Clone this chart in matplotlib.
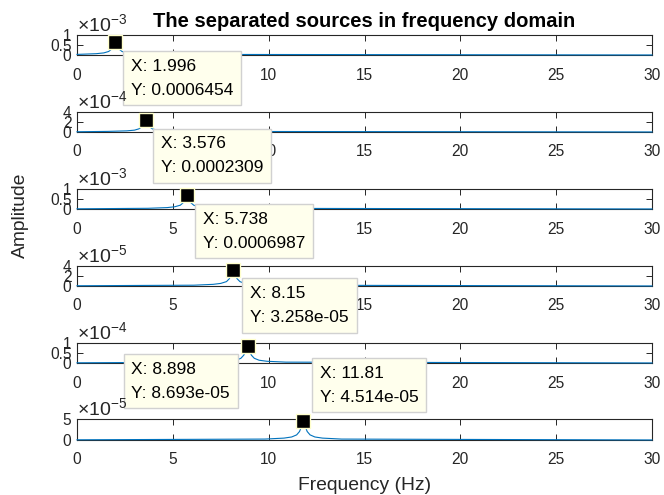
import matplotlib
matplotlib.use("Agg")
import matplotlib.pyplot as plt

plt.rcParams['font.family'] = ['Liberation Sans', 'DejaVu Sans']
plt.rcParams['mathtext.fontset'] = 'custom'
plt.rcParams['mathtext.rm'] = 'Liberation Sans'
plt.rcParams['mathtext.it'] = 'Liberation Sans:italic'
plt.rcParams['mathtext.bf'] = 'Liberation Sans:bold'

# Amplitude spectra of the six separated sources (frequency in Hz)
freq1 = [0.0, 1.0, 1.4, 1.65, 1.8, 1.9, 1.996, 2.1, 2.2, 2.35, 2.6, 3.0, 4.0, 30.0]
amp1 = [0.3e-4, 0.65e-4, 1.05e-4, 1.75e-4, 2.9e-4, 4.6e-4, 6.454e-4, 4.6e-4, 2.9e-4,
        1.75e-4, 1.05e-4, 0.65e-4, 0.32e-4, 0.02e-4]

freq2 = [0.0, 1.6, 2.6, 3.0, 3.23, 3.38, 3.48, 3.576, 3.68, 3.78, 3.93, 4.18, 4.58, 5.6, 30.0]
amp2 = [0.05e-4, 0.12e-4, 0.23e-4, 0.37e-4, 0.63e-4, 1.04e-4, 1.64e-4, 2.309e-4, 1.64e-4,
        1.04e-4, 0.63e-4, 0.37e-4, 0.23e-4, 0.12e-4, 0.01e-4]

freq3 = [0.0, 3.7, 4.7, 5.1, 5.39, 5.54, 5.64, 5.738, 5.84, 5.94, 6.09, 6.34, 6.74, 7.7, 30.0]
amp3 = [0.1e-4, 0.35e-4, 0.7e-4, 1.12e-4, 1.9e-4, 3.15e-4, 4.95e-4, 6.987e-4, 4.95e-4,
        3.15e-4, 1.9e-4, 1.12e-4, 0.7e-4, 0.35e-4, 0.02e-4]

freq4 = [0.0, 6.1, 7.1, 7.5, 7.8, 7.95, 8.05, 8.15, 8.25, 8.35, 8.5, 8.75, 9.15, 10.2, 30.0]
amp4 = [0.05e-5, 0.16e-5, 0.33e-5, 0.52e-5, 0.88e-5, 1.47e-5, 2.31e-5, 3.258e-5, 2.31e-5,
        1.47e-5, 0.88e-5, 0.52e-5, 0.33e-5, 0.16e-5, 0.01e-5]

freq5 = [0.0, 6.9, 7.9, 8.3, 8.55, 8.7, 8.8, 8.898, 9.0, 9.1, 9.25, 9.5, 9.9, 10.9, 30.0]
amp5 = [0.1e-5, 0.43e-5, 0.87e-5, 1.39e-5, 2.35e-5, 3.9e-5, 6.15e-5, 8.693e-5, 6.15e-5,
        3.9e-5, 2.35e-5, 1.39e-5, 0.87e-5, 0.43e-5, 0.03e-5]

freq6 = [0.0, 9.8, 10.8, 11.2, 11.46, 11.61, 11.71, 11.81, 11.91, 12.01, 12.16, 12.41, 12.81, 13.8, 30.0]
amp6 = [0.05e-5, 0.22e-5, 0.45e-5, 0.72e-5, 1.22e-5, 2.02e-5, 3.19e-5, 4.514e-5, 3.19e-5,
        2.02e-5, 1.22e-5, 0.72e-5, 0.45e-5, 0.22e-5, 0.01e-5]

# Data-tip peaks
peak_x = [1.996, 3.576, 5.738, 8.15, 8.898, 11.81]
peak_y = [0.0006454, 0.0002309, 0.0006987, 3.258e-05, 8.693e-05, 4.514e-05]
tip_x_text = ['1.996', '3.576', '5.738', '8.15', '8.898', '11.81']
tip_y_text = ['0.0006454', '0.0002309', '0.0006987', '3.258e-05', '8.693e-05', '4.514e-05']

# Axis scaling
y_max = [1e-3, 4e-4, 1e-3, 4e-5, 1e-4, 5e-5]
y_exp = [-3, -4, -3, -5, -4, -5]
y_ticks = [[0, 0.5, 1], [0, 2, 4], [0, 0.5, 1], [0, 2, 4], [0, 0.5, 1], [0, 5]]
y_ticklabels = [['0', '0.5', '1'], ['0', '2', '4'], ['0', '0.5', '1'],
                ['0', '2', '4'], ['0', '0.5', '1'], ['0', '5']]
x_ticks = [0, 5, 10, 15, 20, 25, 30]

freqs = [freq1, freq2, freq3, freq4, freq5, freq6]
amps = [amp1, amp2, amp3, amp4, amp5, amp6]

W, H = 664, 495
fig = plt.figure(figsize=(W / 100, H / 100), dpi=100)

line_color = (0.0, 0.447, 0.741)
axis_color = (0.15, 0.15, 0.15)

# Axes placement (pixels from top): top, bottom
ax_rows = [(35, 55), (112, 132), (189, 209), (266, 286), (343, 363), (419, 440)]
ax_left, ax_right = 77, 652

# Data-tip box placement: (anchor dx, anchor dy in pixels, ha, va)
tip_place = [(16, -16.5, 'left', 'top'), (15, -16, 'left', 'top'),
             (16, -16.5, 'left', 'top'), (17, -16, 'left', 'top'),
             (-17.5, -16, 'right', 'top'), (16.5, 16.5, 'left', 'bottom')]

for i in range(6):
    top, bot = ax_rows[i]
    ax = fig.add_axes([ax_left / W, 1 - bot / H, (ax_right - ax_left) / W, (bot - top) / H])
    ax.plot(freqs[i], amps[i], color=line_color, lw=0.8, zorder=3, clip_on=False)
    ax.plot([peak_x[i]], [peak_y[i]], marker='s', ms=10, mfc='black',
            mec=(1.0, 1.0, 0.8), mew=1.0, ls='none', zorder=5, clip_on=False)
    ax.set_xlim(0, 30)
    ax.set_ylim(0, y_max[i])
    ax.set_xticks(x_ticks)
    ax.set_xticklabels([str(t) for t in x_ticks])
    scale = 10.0 ** y_exp[i]
    ax.set_yticks([t * scale for t in y_ticks[i]])
    ax.set_yticklabels(y_ticklabels[i])
    ax.tick_params(direction='in', length=4.3, width=0.7, top=True, right=True,
                   colors=axis_color, labelsize=11.2, pad=4)
    ax.tick_params(axis='x', pad=9)
    for sp in ax.spines.values():
        sp.set_color(axis_color)
        sp.set_linewidth(0.8)
    ax.text(0.0, 1.0, r'$\times10^{%d}$' % y_exp[i], transform=ax.transAxes,
            ha='left', va='bottom', fontsize=14, color=axis_color)

    dx, dy, ha, va = tip_place[i]
    ax.annotate('X: %s\nY: %s' % (tip_x_text[i], tip_y_text[i]),
                xy=(peak_x[i], peak_y[i]), xytext=(dx, dy), textcoords='offset pixels',
                ha=ha, va=va, multialignment='left', fontsize=12.5, color='black',
                linespacing=1.75,
                bbox=dict(boxstyle='square,pad=0.45', fc=(1.0, 1.0, 0.93),
                          ec=(0.82, 0.82, 0.82), lw=1.0),
                zorder=10, annotation_clip=False)

fig.text((ax_left + ax_right) / 2 / W, 1 - 21.5 / H, 'The separated sources in frequency domain',
         ha='center', va='center', fontsize=14.5, fontweight='bold', color='black')
fig.text(20 / W, 1 - 215 / H, 'Amplitude', rotation=90, ha='center', va='center',
         fontsize=13.9, color=axis_color)
fig.text((ax_left + ax_right) / 2 / W, 1 - 485 / H, 'Frequency (Hz)', ha='center',
         va='center', fontsize=13.9, color=axis_color)

fig.savefig('out.png', dpi=100)
